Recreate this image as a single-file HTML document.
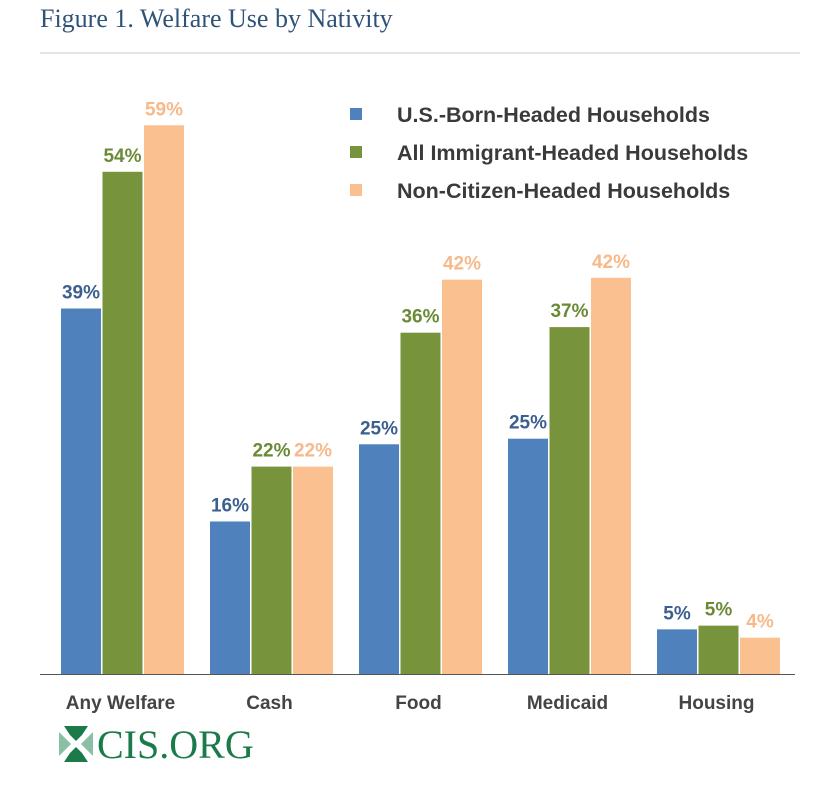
<!DOCTYPE html>
<html><head><meta charset="utf-8"><style>
body{margin:0;background:#fff;width:820px;height:780px;overflow:hidden}
svg text{font-family:"Liberation Sans",sans-serif}
</style></head><body>
<svg width="820" height="780">
<text x="40" y="27" font-size="26" fill="#2f5378" style="font-family:'Liberation Serif',serif">Figure 1. Welfare Use by Nativity</text>
<line x1="40" y1="53" x2="800" y2="53" stroke="#c8c8c8" stroke-width="1"/>
<g id="bars"></g>
<line x1="40" y1="674.5" x2="795" y2="674.5" stroke="#555" stroke-width="1"/>
<g id="legend"></g>
<g>
<polygon points="64,726 88,726 82,735 76,741 70,735" fill="#1b7a4a"/>
<polygon points="64,762 88,762 82,753 76,747 70,753" fill="#1b7a4a"/>
<polygon points="59,732 71,744 59,756" fill="#8cc0a4"/>
<polygon points="93,732 81,744 93,756" fill="#8cc0a4"/>
<text x="97" y="758" font-size="40" fill="#1b7a4a" style="font-family:'Liberation Serif',serif">CIS.ORG</text>
</g>
</svg>
<script>
const categories=["Any Welfare","Cash","Food","Medicaid","Housing"];
const seriesNames=["U.S.-Born-Headed Households","All Immigrant-Headed Households","Non-Citizen-Headed Households"];
const usBorn=[39.3,16.4,24.7,25.3,4.8];
const allImm=[54,22.3,36.7,37.3,5.2];
const nonCit=[59,22.3,42.4,42.6,3.9];
const usBornLabels=["39%","16%","25%","25%","5%"];
const allImmLabels=["54%","22%","36%","37%","5%"];
const nonCitLabels=["59%","22%","42%","42%","4%"];
const NS="http://www.w3.org/2000/svg";
const colors=["#4f81bd","#77933c","#fac090"];
const labelColors=["#3b5f8f","#6a8a35","#f7b98a"];
const base=674,scale=9.3;
const y=v=>base-v*scale;
const x=(i,s)=>61+i*149+s*41.5;
const bars=document.getElementById('bars');
const series=[usBorn,allImm,nonCit],labels=[usBornLabels,allImmLabels,nonCitLabels];
categories.forEach((c,i)=>{
 series.forEach((d,s)=>{
  const r=document.createElementNS(NS,'rect');
  r.setAttribute('x',x(i,s));r.setAttribute('y',y(d[i]));
  r.setAttribute('width',40);r.setAttribute('height',base-y(d[i]));
  r.setAttribute('fill',colors[s]);
  
  
  bars.appendChild(r);
  const t=document.createElementNS(NS,'text');
  t.setAttribute('x',x(i,s)+20);t.setAttribute('y',y(d[i])-10);
  t.setAttribute('text-anchor','middle');t.setAttribute('font-size','19');
  t.setAttribute('font-weight','bold');t.setAttribute('fill',labelColors[s]);
  t.textContent=labels[s][i];
  
  
  bars.appendChild(t);
 });
 const t=document.createElementNS(NS,'text');
 t.setAttribute('x',x(i,1)+18);t.setAttribute('y',709);
 t.setAttribute('text-anchor','middle');t.setAttribute('font-size','19');
 t.setAttribute('font-weight','bold');t.setAttribute('fill','#444');
 t.textContent=c;
 
 
 bars.appendChild(t);
});
const lg=document.getElementById('legend');
seriesNames.forEach((n,s)=>{
 const r=document.createElementNS(NS,'rect');
 r.setAttribute('x',350);r.setAttribute('y',108+s*38);r.setAttribute('width',12);r.setAttribute('height',12);
 r.setAttribute('fill',colors[s]);
 
 
 lg.appendChild(r);
 const t=document.createElementNS(NS,'text');
 t.setAttribute('x',397);t.setAttribute('y',122+s*38);
 t.setAttribute('font-size','21.5');t.setAttribute('font-weight','bold');t.setAttribute('fill','#3a3a3a');
 t.textContent=n;
 
 
 lg.appendChild(t);
});
</script>
</body></html>
